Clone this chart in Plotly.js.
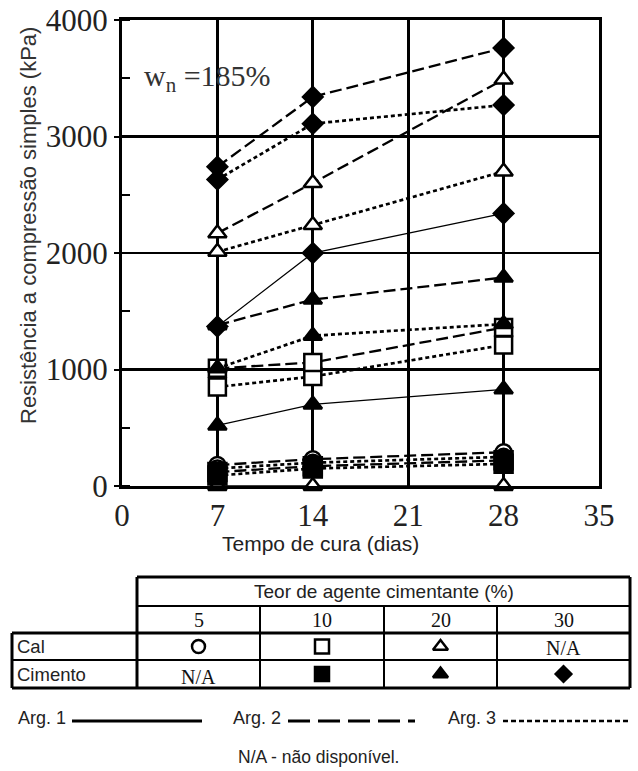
<!DOCTYPE html>
<html>
<head>
<meta charset="utf-8">
<script src="https://cdn.plot.ly/plotly-3.0.1.min.js"></script>
<style>
  html, body { margin: 0; padding: 0; background: #fff; }
  #chart { width: 638px; height: 771px; }
</style>
</head>
<body>
<div id="chart"></div>
<script>
// Curing time (days)
const days = [7, 14, 28];

// Unconfined compressive strength (kPa), by binder content and clay (Arg. 1/2/3)
const cal20_arg1 = [0, 0, 0];
const cal20_arg2 = [2170, 2600, 3490];
const cal20_arg3 = [2010, 2240, 2700];
const cal10_arg2 = [1010, 1060, 1360];
const cal10_arg3 = [850, 940, 1210];
const cal5_arg2 = [180, 230, 290];
const cal5_arg3 = [150, 200, 250];
const cim10_arg2 = [120, 170, 220];
const cim10_arg3 = [90, 150, 190];
const cim20_arg1 = [520, 700, 830];
const cim20_arg2 = [1380, 1600, 1790];
const cim20_arg3 = [1010, 1290, 1390];
const cim30_arg1 = [1370, 2000, 2340];
const cim30_arg2 = [2740, 3340, 3760];
const cim30_arg3 = [2630, 3110, 3270];

// Table labels
const tableTitle = 'Teor de agente cimentante (%)';
const contents = ['5', '10', '20', '30'];
const rowNames = ['Cal', 'Cimento'];
const argNames = ['Arg. 1', 'Arg. 2', 'Arg. 3'];

// ---- styles ----
const W = 638, H = 771;
const plotBox = { left: 122, right: 599, top: 20, bottom: 486 };

const lineStyle = {
  arg1: { color: '#000', width: 1.3, dash: 'solid' },
  arg2: { color: '#000', width: 2.3, dash: '12px,5px' },
  arg3: { color: '#000', width: 2.7, dash: '4px,3px' }
};
const keyDash = { arg1: 'solid', arg2: '22px,8px', arg3: '5px,3px' };
const markerStyle = {
  cal5:  { symbol: 'circle',      size: 16, color: '#fff' },
  cal10: { symbol: 'square',      size: 17, color: '#fff' },
  cal20: { symbol: 'triangle-up', size: 16, color: '#fff' },
  cim10: { symbol: 'square',      size: 18, color: '#000' },
  cim20: { symbol: 'triangle-up', size: 16, color: '#000' },
  cim30: { symbol: 'diamond',     size: 15, color: '#000' }
};

function series(values, mk, arg, name) {
  const m = markerStyle[mk];
  return {
    type: 'scatter', mode: 'lines+markers', name: name,
    x: days, y: values, cliponaxis: false,
    line: Object.assign({}, lineStyle[arg]),
    marker: { symbol: m.symbol, size: m.size, color: m.color,
              line: { color: '#000', width: 2.5 } },
    hoverinfo: 'x+y+name'
  };
}

const traces = [
  series(cal20_arg1, 'cal20', 'arg1', 'Cal 20% Arg. 1'),
  series(cal5_arg2, 'cal5', 'arg2', 'Cal 5% Arg. 2'),
  series(cal5_arg3, 'cal5', 'arg3', 'Cal 5% Arg. 3'),
  series(cim10_arg2, 'cim10', 'arg2', 'Cimento 10% Arg. 2'),
  series(cim10_arg3, 'cim10', 'arg3', 'Cimento 10% Arg. 3'),
  series(cim20_arg1, 'cim20', 'arg1', 'Cimento 20% Arg. 1'),
  series(cal10_arg3, 'cal10', 'arg3', 'Cal 10% Arg. 3'),
  series(cal10_arg2, 'cal10', 'arg2', 'Cal 10% Arg. 2'),
  series(cim20_arg3, 'cim20', 'arg3', 'Cimento 20% Arg. 3'),
  series(cim20_arg2, 'cim20', 'arg2', 'Cimento 20% Arg. 2'),
  series(cim30_arg1, 'cim30', 'arg1', 'Cimento 30% Arg. 1'),
  series(cal20_arg3, 'cal20', 'arg3', 'Cal 20% Arg. 3'),
  series(cal20_arg2, 'cal20', 'arg2', 'Cal 20% Arg. 2'),
  series(cim30_arg3, 'cim30', 'arg3', 'Cimento 30% Arg. 3'),
  series(cim30_arg2, 'cim30', 'arg2', 'Cimento 30% Arg. 2')
];

// ---- key table under the chart (pixel frame on x2/y2) ----
const T = {
  xLeft: 12, xHead: 137, cols: [137, 260, 384, 497, 630],
  yTop: 577, yNum: 606, yCal: 633, yCim: 660, yBot: 688,
  legendY: 721, noteY: 757
};
const colCenter = i => (T.cols[i] + T.cols[i + 1]) / 2;
const rowMid = (a, b) => (a + b) / 2;

const keySymbols = [
  { mk: 'cal5',  col: 0, row: 'cal' },
  { mk: 'cal10', col: 1, row: 'cal' },
  { mk: 'cal20', col: 2, row: 'cal' },
  { mk: 'cim10', col: 1, row: 'cim' },
  { mk: 'cim20', col: 2, row: 'cim' },
  { mk: 'cim30', col: 3, row: 'cim' }
];
keySymbols.forEach(k => {
  const m = markerStyle[k.mk];
  const y = k.row === 'cal' ? rowMid(T.yCal, T.yCim) : rowMid(T.yCim, T.yBot);
  traces.push({
    type: 'scatter', mode: 'markers', xaxis: 'x2', yaxis: 'y2',
    x: [colCenter(k.col)], y: [y], hoverinfo: 'skip', cliponaxis: false,
    marker: { symbol: m.symbol, size: k.mk === 'cim10' ? 14 : m.size - 3, color: m.color,
              line: { color: '#000', width: 2.5 } }
  });
});

const shapes = [];
function hline(y, x0, x1, w) {
  shapes.push({ type: 'line', xref: 'x2', yref: 'y2', x0: x0, x1: x1, y0: y, y1: y,
                line: { color: '#000', width: w } });
}
function vline(x, y0, y1, w) {
  shapes.push({ type: 'line', xref: 'x2', yref: 'y2', x0: x, x1: x, y0: y0, y1: y1,
                line: { color: '#000', width: w } });
}
hline(T.yTop, T.xHead, T.cols[4], 3);
hline(T.yNum, T.xHead, T.cols[4], 2);
hline(T.yCal, T.xLeft, T.cols[4], 3);
hline(T.yCim, T.xLeft, T.cols[4], 2);
hline(T.yBot, T.xLeft, T.cols[4], 3);
vline(T.xLeft, T.yCal, T.yBot, 3);
vline(T.xHead, T.yTop, T.yBot, 3);
vline(T.cols[1], T.yNum, T.yBot, 2);
vline(T.cols[2], T.yNum, T.yBot, 2);
vline(T.cols[3], T.yNum, T.yBot, 2);
vline(T.cols[4], T.yTop, T.yBot, 3);

// line-style key
const keyLines = [
  { label: argNames[0], tx: 16,  x0: 72,  x1: 202, arg: 'arg1', w: 3 },
  { label: argNames[1], tx: 231, x0: 288, x1: 415, arg: 'arg2', w: 3 },
  { label: argNames[2], tx: 446, x0: 503, x1: 628, arg: 'arg3', w: 2.7 }
];

const sans = 'Liberation Sans, Arial, sans-serif';
const serif = 'Liberation Serif, Times New Roman, serif';

const annotations = [];
function label(text, x, y, size, family, anchor, color) {
  annotations.push({ xref: 'x2', yref: 'y2', x: x, y: y, text: text, showarrow: false,
                     xanchor: anchor || 'center', yanchor: 'middle',
                     font: { family: family, size: size, color: color || '#111' } });
}

keyLines.forEach(k => {
  shapes.push({ type: 'line', xref: 'x2', yref: 'y2', x0: k.x0, x1: k.x1,
                y0: T.legendY, y1: T.legendY,
                line: { color: '#000', width: k.w, dash: keyDash[k.arg] } });
  label(k.label, k.tx, T.legendY - 3, 18, sans, 'left', '#222');
});

label(tableTitle, (T.cols[0] + T.cols[4]) / 2, rowMid(T.yTop, T.yNum), 19, sans, 'center', '#222');
contents.forEach((c, i) => label(c, colCenter(i), rowMid(T.yNum, T.yCal), 20, serif, 'center', '#111'));
label(rowNames[0], T.xLeft + 3, rowMid(T.yCal, T.yCim), 18.5, sans, 'left', '#222');
label(rowNames[1], T.xLeft + 3, rowMid(T.yCim, T.yBot), 18.5, sans, 'left', '#222');
label('N/A', colCenter(3), rowMid(T.yCal, T.yCim) + 1, 20, serif, 'center', '#111');
label('N/A', colCenter(0), rowMid(T.yCim, T.yBot) + 3, 20, serif, 'center', '#111');
label('N/A - não disponível.', 318, T.noteY, 17.5, sans, 'center', '#222');

// axis titles and the moisture-content note
label('Tempo de cura (dias)', 320, 543, 21, sans, 'center', '#222');
annotations.push({ xref: 'x2', yref: 'y2', x: 28, y: 226, text: 'Resistência a compressão simples (kPa)',
                   showarrow: false, textangle: -90, xanchor: 'center', yanchor: 'middle',
                   font: { family: sans, size: 22, color: '#333' } });
label('w<sub>n</sub> =185%', 142, 78, 30, serif, 'left', '#333');

const layout = {
  width: W, height: H,
  margin: { l: 0, r: 0, t: 0, b: 0 },
  paper_bgcolor: '#fff', plot_bgcolor: 'rgba(0,0,0,0)',
  showlegend: false,
  xaxis: {
    domain: [plotBox.left / W, plotBox.right / W],
    range: [0, 35], tick0: 0, dtick: 7,
    showgrid: true, gridcolor: '#000', gridwidth: 3,
    showline: true, linecolor: '#000', linewidth: 3, mirror: true,
    zeroline: false, ticks: '',
    tickfont: { family: serif, size: 31, color: '#222' },
    fixedrange: true
  },
  yaxis: {
    domain: [1 - plotBox.bottom / H, 1 - plotBox.top / H],
    range: [0, 4000], tick0: 0, dtick: 1000,
    showgrid: true, gridcolor: '#000', gridwidth: 2.5,
    showline: true, linecolor: '#000', linewidth: 3, mirror: true,
    zeroline: false, ticks: 'outside', ticklen: 5, tickwidth: 2, tickcolor: '#000',
    minor: { dtick: 500, tick0: 0, ticks: 'inside', ticklen: 8, tickwidth: 2, tickcolor: '#000', showgrid: false },
    tickfont: { family: serif, size: 31, color: '#222' },
    fixedrange: true
  },
  xaxis2: { domain: [0, 1], range: [0, W], visible: false, fixedrange: true, anchor: 'y2' },
  yaxis2: { domain: [0, 1], range: [H, 0], visible: false, fixedrange: true, anchor: 'x2' },
  shapes: shapes,
  annotations: annotations
};

Plotly.newPlot('chart', traces, layout, { displayModeBar: false, staticPlot: true });
</script>
</body>
</html>
